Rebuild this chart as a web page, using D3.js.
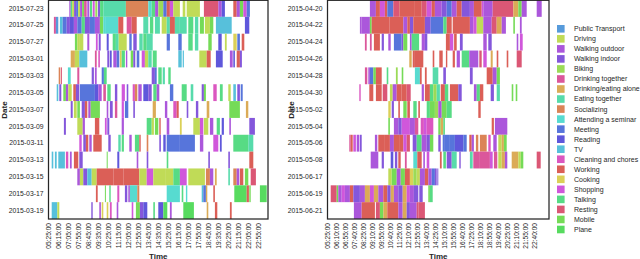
<!DOCTYPE html>
<html><head><meta charset="utf-8">
<script src="https://cdn.jsdelivr.net/npm/d3@7"></script>
<style>body{margin:0;background:#fff}svg{display:block}</style>
</head><body><svg id="c" width="640" height="259"></svg>
<script>
const activities = ["Public Transport","Driving","Walking outdoor","Walking indoor","Biking","Drinking together","Drinking/eating alone","Eating together","Socializing","Attending a seminar","Meeting","Reading","TV","Cleaning and chores","Working","Cooking","Shopping","Talking","Resting","Mobile","Plane"];
const activityColors = ["#579bdb","#c0db57","#ab57db","#8457db","#9bdb57","#db579b","#dbab57","#57dbab","#db8457","#57dbd0","#5775db","#5f57db","#57c0db","#db57c0","#db5f57","#dbd057","#d057db","#57db84","#db5775","#75db57","#57db5f"];
const leftDates = ["2015-07-23","2015-07-25","2015-07-27","2015-03-01","2015-03-03","2015-03-05","2015-03-07","2015-03-09","2015-03-11","2015-03-13","2015-03-15","2015-03-17","2015-03-19"];
const rightDates = ["2015-04-20","2015-04-22","2015-04-24","2015-04-26","2015-04-28","2015-04-30","2015-05-02","2015-05-04","2015-05-06","2015-05-08","2015-06-17","2015-06-19","2015-06-21"];
const leftTicks = ["05:25:00","06:15:00","07:05:00","07:55:00","08:45:00","09:35:00","10:25:00","11:15:00","12:05:00","12:55:00","13:45:00","14:35:00","15:25:00","16:15:00","17:05:00","17:55:00","18:45:00","19:35:00","20:25:00","21:15:00","22:05:00","22:55:00"];
const rightTicks = ["05:25:00","06:10:00","06:55:00","07:40:00","08:25:00","09:10:00","09:55:00","10:40:00","11:25:00","12:10:00","12:55:00","13:40:00","14:25:00","15:10:00","15:55:00","16:40:00","17:25:00","18:10:00","18:55:00","19:40:00","20:25:00","21:10:00","21:55:00","22:40:00"];

// segments: [start minute, end minute, activity index]
const L0723 = [[429,436,2],[436,443,17],[443,453,1],[453,463,3],[463,473,10],[473,483,1],[483,493,2],[493,503,19],[503,516,5],[519,529,2],[532,543,17],[546,556,16],[559,569,4],[572,583,3],[583,599,17],[599,712,7],[712,824,8],[824,841,9],[841,858,17],[858,874,2],[874,899,4],[899,916,10],[916,932,14],[932,949,16],[949,982,1],[996,1009,1],[1016,1082,1],[1102,1174,18],[1174,1191,2],[1191,1207,11],[1249,1266,14],[1266,1282,2],[1282,1299,19],[1299,1316,16],[1316,1332,10]];
const L0725 = [[352,362,5],[362,374,0],[382,396,12],[396,416,10],[416,432,3],[432,452,11],[452,469,2],[469,491,10],[491,507,17],[507,532,3],[532,557,10],[557,582,2],[582,599,19],[599,612,9],[612,674,9],[674,699,14],[716,741,5],[741,766,14],[799,824,7],[832,849,17],[857,882,7],[891,916,1],[916,932,7],[932,957,14],[957,982,7],[982,1016,7],[1024,1049,17],[1057,1074,7],[1082,1102,19],[1107,1132,1],[1132,1149,19],[1162,1241,12],[1307,1329,11]];
const L0727 = [[457,469,19],[469,482,1],[482,499,1],[519,529,2],[562,571,16],[576,586,3],[616,626,11],[646,662,17],[662,676,7],[676,716,1],[729,741,10],[749,766,3],[779,796,7],[799,816,17],[816,846,7],[916,932,10],[974,991,10],[1024,1046,17],[1057,1074,7],[1124,1141,19],[1174,1191,11],[1207,1216,1],[1249,1266,15],[1269,1282,10],[1291,1304,14]];
const L0301 = [[436,457,6],[457,479,1],[479,519,12],[557,566,5],[574,582,13],[619,629,3],[632,641,11],[649,666,2],[666,679,10],[682,691,15],[691,707,17],[712,719,2],[736,749,19],[749,759,3],[766,779,10],[791,807,16],[807,824,1],[824,841,7],[846,866,17],[974,991,12],[996,1002,12],[1079,1116,1],[1116,1136,14],[1162,1196,11],[1232,1246,2],[1249,1257,11],[1266,1282,14],[1282,1292,3]];
const L0303 = [[376,384,8],[387,392,18],[422,436,9],[469,479,5],[541,552,3],[557,566,2],[591,602,10],[602,616,17],[841,857,3],[857,866,10],[874,891,17],[896,907,7],[924,936,17]];
const L0305 = [[366,374,12],[379,389,3],[399,412,19],[412,424,2],[424,441,1],[449,462,14],[462,479,3],[482,557,10],[557,574,11],[574,591,2],[599,612,5],[619,636,17],[657,669,3],[691,707,16],[716,724,3],[746,757,13],[757,769,8],[774,791,2],[799,824,11],[824,841,3],[849,866,17],[866,879,2],[932,949,10],[991,1016,17],[1036,1049,7],[1091,1102,3],[1102,1112,19],[1149,1166,13],[1182,1196,17],[1224,1236,1],[1249,1262,12],[1269,1282,3],[1286,1296,10]];
const L0307 = [[436,446,3],[452,466,1],[469,482,19],[491,507,3],[507,519,14],[524,536,2],[536,582,19],[616,624,2],[632,646,3],[657,669,5],[691,702,16],[707,724,10],[749,757,3],[846,862,6],[907,919,2],[949,966,13],[966,976,14],[1016,1024,3],[1062,1074,3],[1116,1129,6],[1229,1282,19],[1312,1324,6]];
const L0309 = [[402,412,3],[469,496,1],[496,507,2],[557,579,14],[607,616,16],[619,629,3],[691,702,2],[816,841,17],[841,852,1],[857,874,19],[879,886,14],[916,929,2],[982,991,15],[1049,1082,1],[1082,1099,16],[1102,1124,1],[1132,1149,2],[1166,1182,17],[1191,1202,11],[1229,1237,2],[1329,1357,3]];
const L0311 = [[479,491,16],[499,512,3],[512,524,14],[529,541,2],[549,591,14],[624,636,3],[674,686,7],[691,702,17],[729,741,2],[757,779,17],[779,786,14],[816,824,8],[879,887,3],[899,911,11],[916,982,10],[982,1057,10],[1082,1099,2],[1149,1174,16],[1182,1191,11],[1249,1324,17],[1324,1349,7]];
const L0313 = [[341,349,12],[357,366,12],[374,407,12],[412,424,13],[432,441,2],[452,474,14],[479,496,3],[616,621,19],[669,679,11],[766,774,2],[816,824,3],[916,924,17],[1124,1132,3],[1224,1232,3],[1329,1349,14]];
const L0315 = [[469,482,2],[482,499,1],[499,519,3],[519,541,12],[541,566,1],[566,649,14],[649,699,14],[699,779,14],[779,816,1],[816,849,16],[849,912,1],[912,949,1],[949,982,17],[982,1016,16],[1024,1107,1],[1112,1132,8],[1132,1149,2],[1157,1166,6],[1224,1232,7],[1249,1266,8],[1266,1279,2],[1282,1299,14],[1307,1324,19],[1336,1362,18]];
const L0317 = [[562,571,14],[607,612,19],[629,636,17],[669,679,13],[707,719,3],[724,732,2],[732,769,9],[769,779,8],[916,982,9],[991,999,17],[1012,1019,9],[1091,1099,12],[1099,1112,10],[1112,1119,6],[1149,1157,14],[1254,1316,20],[1316,1327,14],[1329,1336,19],[1382,1416,20]];
const L0319 = [[341,369,12],[369,379,1],[539,546,3],[579,587,2],[591,599,15],[616,624,15],[632,641,13],[666,674,2],[741,749,16],[762,782,19],[782,799,3],[799,819,11],[849,857,17],[874,899,11],[899,919,20],[932,941,2],[999,1052,20],[1116,1124,6],[1157,1169,14],[1232,1241,14]];

const R0420 = [[537,567,2],[567,587,14],[587,612,16],[612,624,14],[624,654,10],[654,684,18],[684,762,14],[762,796,14],[796,821,18],[821,846,16],[846,862,14],[862,896,2],[896,921,3],[921,946,10],[946,971,2],[971,996,14],[996,1037,3],[1037,1057,2],[1057,1096,14],[1096,1104,16],[1104,1151,2],[1151,1254,18],[1254,1279,6],[1279,1296,19],[1296,1321,2],[1371,1396,2]];
const R0422 = [[487,496,2],[496,537,2],[537,546,19],[546,634,14],[634,704,14],[704,724,2],[724,737,14],[737,754,3],[754,812,14],[812,841,3],[841,904,10],[904,921,17],[921,946,14],[951,1037,14],[1037,1054,2],[1054,1071,16],[1071,1104,1],[1104,1146,2],[1146,1171,18],[1171,1196,6],[1196,1217,2],[1254,1262,19],[1287,1296,2]];
const R0424 = [[512,521,5],[537,546,5],[557,587,14],[596,607,3],[629,641,2],[657,696,10],[696,704,3],[704,724,19],[737,746,2],[746,783,17],[796,812,2],[812,824,3],[917,937,14],[937,954,16],[958,971,14],[987,1001,3],[1104,1121,2],[1129,1146,3],[1271,1279,2],[1287,1301,16]];
const R0426 = [[734,746,6],[751,762,14],[762,804,14],[851,859,14],[884,901,14],[917,924,14],[951,962,14],[971,987,2],[996,1034,17],[1034,1079,2],[1084,1096,18],[1104,1121,16],[1141,1151,6],[1171,1179,14],[1221,1229,14],[1271,1296,18]];
const R0428 = [[512,524,5],[529,537,2],[537,554,10],[554,567,19],[567,596,14],[621,629,17],[667,676,4],[696,704,19],[762,787,9],[787,796,14],[812,821,14],[851,879,7],[904,917,3],[1037,1051,3],[1121,1151,14],[1151,1171,2],[1171,1187,19]];
const R0430 = [[484,491,13],[534,554,14],[567,596,14],[601,624,18],[637,651,1],[651,671,2],[671,696,14],[696,721,14],[721,741,18],[796,807,2],[812,837,14],[837,854,17],[854,871,4],[871,887,7],[891,912,14],[912,929,17],[937,979,14],[979,996,3],[1057,1071,2],[1071,1087,17],[1087,1104,14],[1141,1157,3],[1171,1187,7],[1246,1254,19],[1266,1274,19]];
const R0502 = [[629,641,15],[646,657,3],[679,687,14],[704,721,19],[724,737,14],[754,771,17],[779,787,14],[821,837,17],[837,862,19],[862,879,4],[879,896,2],[896,921,19],[921,946,17],[1079,1091,14]];
const R0504 = [[629,637,19],[657,679,2],[679,696,3],[696,737,16],[737,762,2],[762,779,5],[791,807,13],[807,821,16],[821,854,13],[879,891,19],[891,904,6],[904,912,17],[1146,1157,14],[1162,1224,2]];
const R0506 = [[434,441,5],[441,451,14],[454,467,16],[471,484,2],[487,496,3],[562,574,2],[579,612,14],[612,637,14],[637,657,2],[657,687,14],[687,704,14],[704,721,16],[721,737,18],[751,771,3],[771,796,17],[796,821,2],[821,837,3],[837,854,19],[879,891,3],[901,912,10],[912,937,10],[937,962,10],[962,1004,11],[1004,1021,10],[1034,1046,14],[1046,1057,2],[1067,1079,8],[1087,1121,8],[1129,1141,13],[1154,1171,2],[1179,1196,1],[1196,1207,6],[1207,1221,19]];
const R0508 = [[541,579,2],[596,607,3],[641,654,11],[662,674,3],[679,691,14],[712,721,5],[754,774,9],[774,796,14],[804,812,2],[821,834,16],[887,896,14],[904,917,17],[921,946,3],[946,971,7],[984,991,3],[1037,1051,7],[1054,1087,5],[1087,1137,5],[1137,1151,16],[1157,1174,5],[1179,1196,1],[1196,1212,6],[1212,1224,2],[1246,1279,6],[1279,1291,1],[1291,1304,19],[1371,1391,18]];
const R0617 = [[629,646,1],[646,671,19],[671,691,2],[691,712,19],[712,737,14],[737,754,15],[754,771,4],[771,787,1],[787,812,2],[812,829,14],[829,846,2],[846,862,10],[862,871,3],[874,879,3]];
const R0619 = [[341,371,18],[371,379,19],[379,396,2],[396,412,16],[412,437,2],[437,454,14],[454,487,3],[487,512,2],[512,537,6],[537,557,16],[557,579,6],[579,604,2],[604,624,14],[624,641,3],[641,657,6],[657,679,2],[679,701,3],[701,721,6],[721,737,16],[737,757,2],[757,779,3],[784,801,3],[829,837,19],[837,851,17]];
const R0621 = [[457,496,2],[496,562,14],[567,587,18],[587,604,19],[604,624,6],[624,679,14],[679,701,2],[701,721,6],[721,737,3],[737,771,2],[771,779,18],[779,812,18]];

const leftRows = [L0723,L0725,L0727,L0301,L0303,L0305,L0307,L0309,L0311,L0313,L0315,L0317,L0319];
const rightRows = [R0420,R0422,R0424,R0426,R0428,R0430,R0502,R0504,R0506,R0508,R0617,R0619,R0621];

const svg = d3.select("#c");
const FONT = "'Liberation Sans', Arial, sans-serif";
const INK = "#262626";
const toMin = s => { const p = s.split(":").map(Number); return p[0]*60 + p[1]; };

function panel(dates, rows, ticks, x0, x1, tEnd, dateX) {
  const x = d3.scaleLinear().domain([toMin("05:25"), tEnd]).range([x0, x1]);
  const y = d3.scaleBand().domain(dates).range([0, 219]);
  const g = svg.append("g");
  rows.forEach((segs, i) => {
    g.append("g").selectAll("rect").data(segs).join("rect")
      .attr("x", d => x(d[0]))
      .attr("width", d => Math.max(0.6, x(d[1]) - x(d[0])))
      .attr("y", y(dates[i]))
      .attr("height", y.bandwidth())
      .attr("fill", d => activityColors[d[2]]);
  });
  // y axis
  const ya = g.append("g").attr("transform", `translate(${x0},0)`)
    .call(d3.axisLeft(y).tickSize(0).tickPadding(5));
  ya.select(".domain").remove();
  ya.selectAll("text").attr("font-family", FONT).attr("font-size", 6.8).attr("fill", INK);
  // x axis
  const xa = g.append("g").attr("transform", "translate(0,219)")
    .call(d3.axisBottom(x).tickValues(ticks.map(toMin)).tickSize(0)
      .tickFormat((d, i) => ticks[i]));
  xa.select(".domain").remove();
  xa.selectAll("text")
    .attr("transform", "rotate(-90)")
    .attr("x", -4).attr("y", 0).attr("dy", "0.35em")
    .attr("text-anchor", "end")
    .attr("font-family", FONT).attr("font-size", 6.6).attr("fill", INK);
  // frame
  g.append("rect").attr("x", x0).attr("y", 0.3).attr("width", x1 - x0).attr("height", 218.7)
    .attr("fill", "none").attr("stroke", INK).attr("stroke-width", 1.25);
  // axis titles
  g.append("text").text("Time")
    .attr("x", (x0 + x1) / 2).attr("y", 258.5).attr("text-anchor", "middle")
    .attr("font-family", FONT).attr("font-weight", "bold").attr("font-size", 8).attr("fill", INK);
  g.append("text").text("Date")
    .attr("transform", `translate(${dateX},110) rotate(-90)`).attr("text-anchor", "middle")
    .attr("font-family", FONT).attr("font-weight", "bold").attr("font-size", 8).attr("fill", INK);
}

panel(leftDates, leftRows, leftTicks, 48.5, 268, 1422.5, 7);
panel(rightDates, rightRows, rightTicks, 327.5, 549, 1432.5, 294);

// legend
const lg = svg.append("g");
const ly = d3.scaleLinear().domain([0, activities.length - 1]).range([28.8, 229.5]);
activities.forEach((a, i) => {
  lg.append("rect").attr("x", 557).attr("y", ly(i) - 3.8).attr("width", 7.6).attr("height", 7.6)
    .attr("fill", activityColors[i]);
  lg.append("text").text(a).attr("x", 574).attr("y", ly(i)).attr("dy", "0.35em")
    .attr("font-family", FONT).attr("font-size", 7).attr("fill", INK);
});
</script></body></html>
